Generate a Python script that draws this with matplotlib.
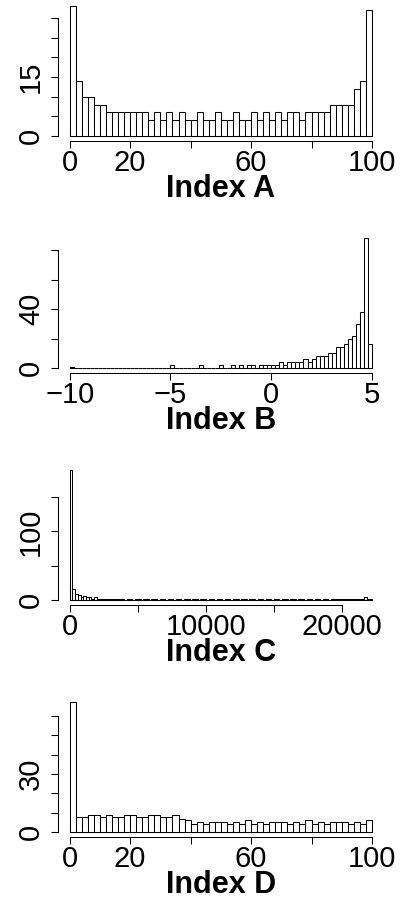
import matplotlib.pyplot as plt
import numpy as np

plt.rcParams['font.family'] = ['Liberation Sans', 'DejaVu Sans']
plt.rcParams['font.size'] = 21

FIG_W, FIG_H = 401, 901
DPI = 100
LW = 0.75

# ---- bin counts ----
a_counts = [33, 14, 10, 10, 8, 8, 6, 6, 6, 6, 6, 6, 6, 4, 6, 4, 6, 4, 6, 4,
            4, 6, 4, 4, 6, 4, 4, 6, 4, 4, 6, 4, 6, 4, 6, 4, 6, 6, 4, 6,
            6, 6, 6, 8, 8, 8, 8, 12, 14, 32]
a_range = (0, 100)
a_xticks = [0, 20, 40, 60, 80, 100]
a_xlabels = ['0', '20', '', '60', '', '100']
a_yticks = [0, 5, 10, 15, 20, 25, 30]
a_ylabels = ['0', '', '', '15', '', '', '']

b_counts = [1, 0, 0, 0, 0, 0, 0, 0, 0, 0, 0, 0, 0, 0, 0, 0, 0, 0, 0, 0,
            0, 0, 0, 0, 0, 2, 0, 0, 0, 0, 0, 0, 2, 0, 0, 0, 0, 2, 0, 0,
            2, 0, 2, 0, 2, 2, 0, 2, 2, 2, 2, 2, 4, 2, 4, 4, 4, 4, 6, 4,
            6, 8, 8, 8, 10, 10, 14, 14, 16, 20, 22, 30, 38, 88, 16]
b_range = (-10, 5)
b_xticks = [-10, -5, 0, 5]
b_xlabels = ['\u221210', '\u22125', '0', '5']
b_yticks = [0, 20, 40, 60, 80]
b_ylabels = ['0', '', '40', '', '']

c_counts = [189, 16, 9, 8, 5, 6, 5, 4, 2, 4, 1, 1, 1, 1, 1, 1, 1, 1, 1, 1,
            0, 1, 1, 0, 1, 1, 0, 1, 1, 0, 1, 1, 0, 1, 1, 0, 1, 1, 0, 1,
            1, 0, 1, 1, 0, 1, 1, 0, 1, 1, 0, 1, 1, 0, 1, 1, 0, 1, 1, 0,
            1, 1, 0, 1, 1, 0, 1, 1, 0, 1, 1, 0, 1, 1, 0, 1, 1, 0, 1, 1,
            0, 1, 1, 0, 1, 1, 0, 1, 1, 0, 1, 1, 0, 1, 1, 0, 1, 1, 1, 1,
            1, 1, 1, 1, 1, 1, 1, 1, 5, 1, 1]
c_range = (0, 22200)
c_xticks = [0, 5000, 10000, 15000, 20000]
c_xlabels = ['0', '', '10000', '', '20000']
c_yticks = [0, 50, 100, 150]
c_ylabels = ['0', '', '100', '']

d_counts = [67, 8, 8, 9, 9, 8, 9, 8, 8, 9, 9, 8, 8, 9, 9, 8, 8, 9, 7, 6,
            4, 5, 4, 5, 5, 5, 4, 5, 4, 6, 4, 5, 4, 5, 5, 5, 4, 5, 4, 6,
            4, 5, 4, 5, 5, 5, 4, 5, 4, 6]
d_range = (0, 100)
d_xticks = [0, 20, 40, 60, 80, 100]
d_xlabels = ['0', '20', '', '60', '', '100']
d_yticks = [0, 10, 20, 30, 40, 50, 60]
d_ylabels = ['0', '', '', '30', '', '', '']

panels = [
    ('Index A', a_counts, a_range, a_xticks, a_xlabels, a_yticks, a_ylabels),
    ('Index B', b_counts, b_range, b_xticks, b_xlabels, b_yticks, b_ylabels),
    ('Index C', c_counts, c_range, c_xticks, c_xlabels, c_yticks, c_ylabels),
    ('Index D', d_counts, d_range, d_xticks, d_xlabels, d_yticks, d_ylabels),
]

# plot regions in pixels
LEFT, WIDTH = 57.6, 326.5
TOPS = [1.0, 233.0, 465.0, 697.0]
HEIGHT = 140.3


def r_lim(lo, hi):
    pad = 0.04 * (hi - lo)
    return lo - pad, hi + pad


fig = plt.figure(figsize=(FIG_W / DPI, FIG_H / DPI), dpi=DPI)

for top, (name, counts, rng, xt, xl, yt, yl) in zip(TOPS, panels):
    ax = fig.add_axes([LEFT / FIG_W, 1 - (top + HEIGHT) / FIG_H,
                       WIDTH / FIG_W, HEIGHT / FIG_H])
    edges = np.linspace(rng[0], rng[1], len(counts) + 1)
    ax.bar(edges[:-1], counts, width=np.diff(edges), align='edge',
           color='white', edgecolor='black', linewidth=LW)
    ax.set_xlim(*r_lim(rng[0], rng[1]))
    ax.set_ylim(*r_lim(0, max(counts)))

    for side in ('top', 'right'):
        ax.spines[side].set_visible(False)
    ax.spines['left'].set_bounds(yt[0], yt[-1])
    ax.spines['bottom'].set_bounds(xt[0], xt[-1])
    ax.spines['left'].set_linewidth(LW)
    ax.spines['bottom'].set_linewidth(LW)

    ax.set_xticks(xt, xl)
    ax.set_yticks(yt, yl)
    ax.tick_params(axis='both', direction='out', length=5, width=LW,
                   labelsize=21)
    ax.tick_params(axis='x', pad=0.5)
    ax.tick_params(axis='y', pad=4)
    for lab in ax.get_yticklabels():
        lab.set_rotation(90)
        lab.set_va('center')

    ax.set_xlabel(name, fontsize=22, fontweight='bold', labelpad=-2)

fig.savefig('out.png', dpi=DPI)
